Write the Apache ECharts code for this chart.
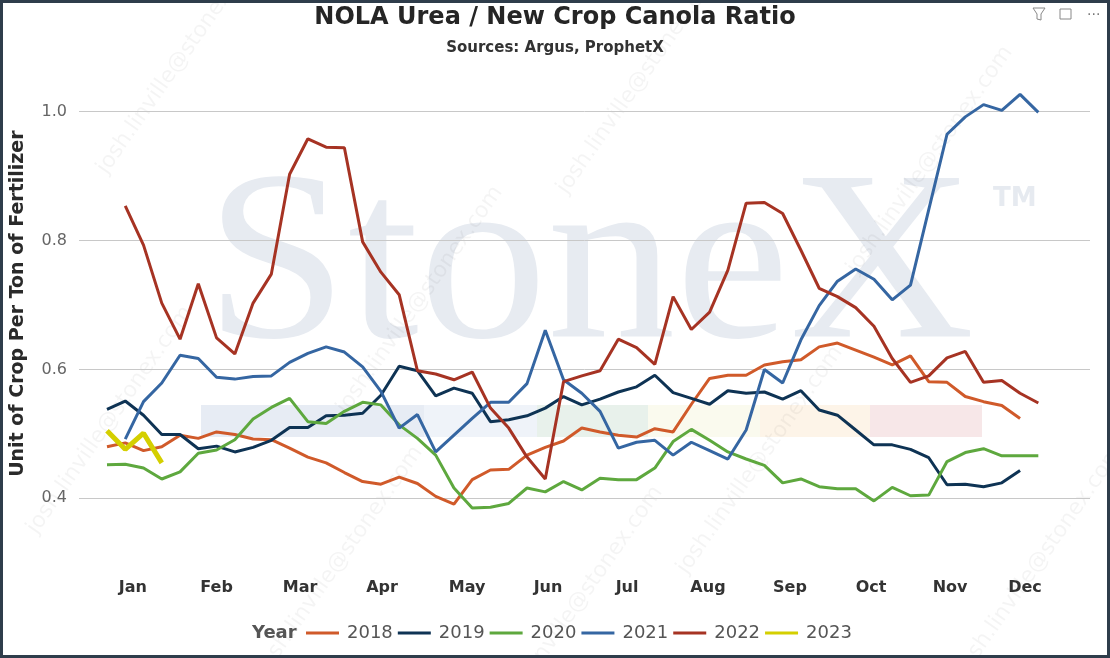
<!DOCTYPE html>
<html>
<head>
<meta charset="utf-8">
<script src="https://cdn.jsdelivr.net/npm/echarts@6/dist/echarts.min.js"></script>
<style>
html, body { margin: 0; padding: 0; background: #fff; }
#chart { position: absolute; left: 0; top: 0; width: 1110px; height: 658px; }
#frame { position: absolute; left: 0; top: 0; width: 1110px; height: 658px; box-sizing: border-box; border: 3px solid #2f3d4b; pointer-events: none; }
</style>
</head>
<body>
<div id="chart"></div>
<div id="frame"></div>
<script>
// week of year (x) and month labels
var weeks = [1,2,3,4,5,6,7,8,9,10,11,12,13,14,15,16,17,18,19,20,21,22,23,24,25,26,
             27,28,29,30,31,32,33,34,35,36,37,38,39,40,41,42,43,44,45,46,47,48,49,50,51,52];
var months = ['Jan','Feb','Mar','Apr','May','Jun','Jul','Aug','Sep','Oct','Nov','Dec'];
var monthWeek = [2.42, 7.0, 11.57, 16.06, 20.72, 25.15, 29.48, 33.91, 38.4, 42.84, 47.17, 51.27];
var yTicks = [0.4, 0.6, 0.8, 1.0];

// ratio per week, one array per year (null = no data that week)
var y2018 = [0.480,0.486,0.474,0.480,0.498,0.493,0.503,0.499,0.492,0.491,0.478,0.464,0.455,0.440,0.426,0.422,0.433,0.423,0.403,0.391,
             0.429,0.444,0.445,0.467,0.479,0.489,0.509,0.503,0.498,0.495,0.508,0.503,0.546,0.586,0.591,0.591,0.607,0.612,0.615,0.635,
             0.641,0.630,0.619,0.607,0.621,0.581,0.580,0.558,0.550,0.544,0.524,null];
var y2019 = [0.538,0.551,0.529,0.499,0.499,0.477,0.481,0.472,0.479,0.490,0.510,0.510,0.528,0.529,0.532,0.560,0.605,0.598,0.559,0.571,
             0.563,0.519,0.522,0.528,0.540,0.558,0.545,0.554,0.565,0.573,0.591,0.564,0.555,0.546,0.567,0.563,0.565,0.554,0.567,0.537,
             0.529,0.506,0.483,0.483,0.476,0.463,0.421,0.422,0.418,0.424,0.443,null];
var y2020 = [0.452,0.453,0.447,0.430,0.441,0.470,0.475,0.491,0.523,0.541,0.555,0.519,0.516,0.535,0.549,0.545,0.514,0.493,0.467,0.416,
             0.385,0.386,0.392,0.416,0.410,0.426,0.413,0.431,0.429,0.429,0.447,0.488,0.507,0.490,0.472,0.461,0.451,0.424,0.430,0.418,
             0.415,0.415,0.396,0.417,0.404,0.405,0.457,0.471,0.477,0.466,0.466,0.466];
var y2021 = [null,0.492,0.550,0.579,0.622,0.617,0.588,0.585,0.589,0.590,0.611,0.625,0.635,0.627,0.604,0.566,0.509,0.530,0.472,0.498,
             0.524,0.549,0.549,0.578,0.661,0.584,0.563,0.535,0.478,0.487,0.490,0.467,0.487,0.474,0.461,0.506,0.600,0.579,0.646,0.699,
             0.737,0.756,0.740,0.708,0.731,0.848,0.965,0.992,1.011,1.002,1.027,0.999];
var y2022 = [null,0.854,0.793,0.703,0.647,0.733,0.649,0.624,0.703,0.748,0.903,0.958,0.945,0.944,0.798,0.751,0.716,0.598,0.593,0.584,
             0.596,0.540,0.509,0.464,0.430,0.581,0.590,0.598,0.647,0.634,0.608,0.713,0.662,0.689,0.754,0.858,0.859,0.842,0.785,0.726,
             0.713,0.696,0.667,0.617,0.580,0.590,0.618,0.628,0.580,0.583,0.563,0.548];
var y2023 = [0.505,0.476,0.501,0.455];

var years = ['2018','2019','2020','2021','2022','2023'];
var yearData = [y2018, y2019, y2020, y2021, y2022, y2023];
var colors = ['#d05a2a', '#0e3354', '#5ea83e', '#3566a2', '#a63323', '#d4cf00'];

function pairs(vals) {
  var out = [];
  for (var i = 0; i < vals.length; i++) {
    if (vals[i] != null) out.push([weeks[i], vals[i]]);
  }
  return out;
}

function monthName(v) {
  var best = 0;
  for (var i = 1; i < monthWeek.length; i++) {
    if (Math.abs(monthWeek[i] - v) < Math.abs(monthWeek[best] - v)) best = i;
  }
  return months[best];
}

var series = years.map(function (yr, k) {
  return {
    name: yr,
    type: 'line',
    data: pairs(yearData[k]),
    symbol: 'none',
    showSymbol: false,
    lineStyle: { width: yr === '2023' ? 5 : 3, color: colors[k] },
    itemStyle: { color: colors[k] },
    z: 3 + k
  };
});

// faint watermark text (background only)
var wm = [[180, 60], [420, 300], [640, 80], [110, 420], [340, 560], [760, 460], [930, 160], [1040, 560], [580, 600]];
var graphics = [
  { type: 'text', x: 205, y: 273, scaleX: 1.06, z: -10, silent: true,
    style: { text: 'StoneX', fontSize: 242, fontFamily: 'Liberation Serif', fill: '#e7ebf1', verticalAlign: 'middle' } },
  { type: 'text', x: 993, y: 199, z: -10, silent: true,
    style: { text: 'TM', fontSize: 26, fontWeight: 'bold', fontFamily: 'DejaVu Sans', fill: '#e6eaf0', verticalAlign: 'middle' } },
  { type: 'rect', z: -10, silent: true, shape: { x: 201, y: 405, width: 223, height: 32 }, style: { fill: '#e7ecf4' } },
  { type: 'rect', z: -10, silent: true, shape: { x: 424, y: 405, width: 113, height: 32 }, style: { fill: '#eff3f9' } },
  { type: 'rect', z: -10, silent: true, shape: { x: 537, y: 405, width: 111, height: 32 }, style: { fill: '#e8f1eb' } },
  { type: 'rect', z: -10, silent: true, shape: { x: 648, y: 405, width: 112, height: 32 }, style: { fill: '#fafaee' } },
  { type: 'rect', z: -10, silent: true, shape: { x: 760, y: 405, width: 110, height: 32 }, style: { fill: '#fdf4e8' } },
  { type: 'rect', z: -10, silent: true, shape: { x: 870, y: 405, width: 112, height: 32 }, style: { fill: '#f7e7e8' } },
  { type: 'text', left: 252, top: 624, z: 10,
    style: { text: 'Year', fontSize: 18, fontWeight: 'bold', fontFamily: 'DejaVu Sans', fill: '#555' } },
  // visual header icons
  { type: 'polyline', z: 10, silent: true, shape: { points: [[1033, 8], [1045, 8], [1041, 14], [1041, 20], [1037, 19], [1037, 14], [1033, 8]] },
    style: { stroke: '#888', fill: 'none', lineWidth: 1 } },
  { type: 'rect', z: 10, silent: true, shape: { x: 1060, y: 9, width: 11, height: 10 }, style: { stroke: '#888', fill: 'none', lineWidth: 1 } },
  { type: 'text', x: 1087, y: 8, z: 10, silent: true, style: { text: '\u00b7\u00b7\u00b7', fontSize: 14, fontFamily: 'DejaVu Sans', fill: '#777' } }
];
wm.forEach(function (p) {
  graphics.push({ type: 'text', x: p[0], y: p[1], rotation: 0.96, z: -9, silent: true,
    style: { text: 'josh.linville@stonex.com', fontSize: 22, fontFamily: 'DejaVu Sans', fill: 'rgba(0,0,0,0.045)', align: 'center', verticalAlign: 'middle' } });
});

var chart = echarts.init(document.getElementById('chart'), null, { renderer: 'canvas' });
chart.setOption({
  animation: false,
  backgroundColor: '#fff',
  title: [
    { text: 'NOLA Urea / New Crop Canola Ratio', left: 'center', top: 4, padding: 0,
      textStyle: { fontSize: 24, fontWeight: 'bold', color: '#252525', fontFamily: 'DejaVu Sans', lineHeight: 28 } },
    { text: 'Sources: Argus, ProphetX', left: 'center', top: 40, padding: 0,
      textStyle: { fontSize: 15, fontWeight: 'bold', color: '#333', fontFamily: 'DejaVu Sans', lineHeight: 17 } }
  ],
  legend: {
    data: years,
    left: 306, top: 624,
    icon: 'rect', itemWidth: 33, itemHeight: 3, itemGap: 5,
    padding: 0,
    textStyle: { fontSize: 18, color: '#555', fontFamily: 'DejaVu Sans', padding: [0, 0, 0, 3] }
  },
  grid: { left: 79, right: 20, top: 79.5, bottom: 95.25, outerBoundsMode: 'none', containLabel: false },
  xAxis: {
    type: 'value', min: -0.533, max: 54.83,
    axisLine: { show: false }, axisTick: { show: false }, splitLine: { show: false },
    axisLabel: { customValues: monthWeek, formatter: monthName, fontSize: 16, fontWeight: 'bold',
      color: '#333', fontFamily: 'DejaVu Sans', margin: 17 }
  },
  yAxis: {
    type: 'value', min: 0.3, max: 1.05,
    name: 'Unit of Crop Per Ton of Fertilizer', nameLocation: 'middle', nameRotate: 90, nameGap: 51,
    nameTextStyle: { fontSize: 19, fontWeight: 'bold', color: '#2a2a2a', fontFamily: 'DejaVu Sans', padding: [0, 0, 0, 35] },
    axisLine: { show: false },
    axisTick: { show: false, customValues: yTicks },
    axisLabel: { customValues: yTicks, formatter: function (v) { return v.toFixed(1); },
      fontSize: 16, color: '#666', fontFamily: 'DejaVu Sans', margin: 12 },
    splitLine: { show: true, lineStyle: { color: '#c8c8c8', width: 1 } }
  },
  graphic: graphics,
  series: series
});
</script>
</body>
</html>
